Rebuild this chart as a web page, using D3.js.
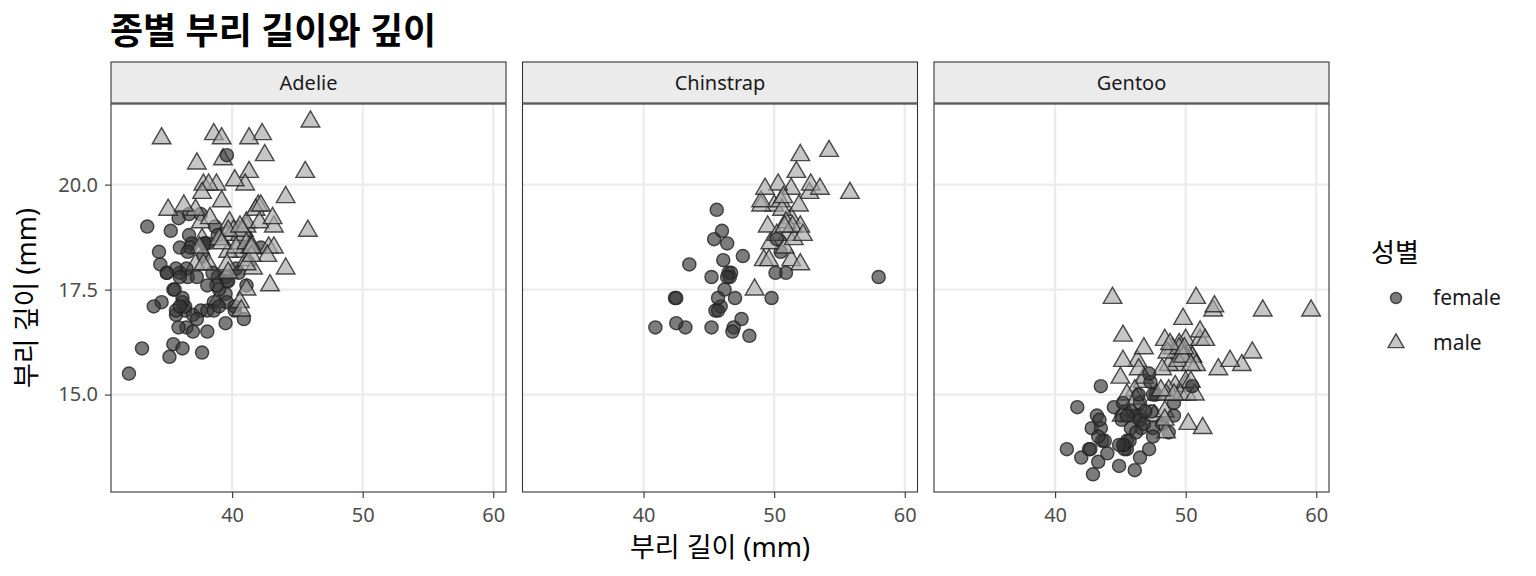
<!DOCTYPE html>
<html>
    <head>
        <meta charset="UTF-8">
        <title>종별 부리 길이와 깊이</title>
        <script type="text/javascript" src="https://cdn.jsdelivr.net/npm/d3@7/dist/d3.min.js"></script>
        <style>
            body { margin: 0; background: #fff; }
            text { font-family: "Noto Sans", "Noto Sans CJK KR", sans-serif; }
        </style>
    </head>
    <body>
        <script type="text/javascript">
            // [bill length, bill depth, sex]
            var adelie = [
                [39.1,18.7,"m"],[39.5,17.4,"f"],[40.3,18.0,"f"],[36.7,19.3,"f"],[39.3,20.6,"m"],[38.9,17.8,"f"],
                [39.2,19.6,"m"],[41.1,17.6,"f"],[38.6,21.2,"m"],[34.6,21.1,"m"],[36.6,17.8,"f"],[38.7,19.0,"f"],
                [42.5,20.7,"m"],[34.4,18.4,"f"],[46.0,21.5,"m"],[37.8,18.3,"f"],[37.7,18.7,"m"],[35.9,19.2,"f"],
                [38.2,18.1,"m"],[38.8,17.2,"m"],[35.3,18.9,"f"],[40.6,18.6,"m"],[40.5,17.9,"f"],[37.9,18.6,"f"],
                [40.5,18.9,"m"],[39.5,16.7,"f"],[37.2,18.1,"m"],[39.5,17.8,"f"],[40.9,18.9,"m"],[36.4,17.0,"f"],
                [39.2,21.1,"m"],[38.8,20.0,"m"],[42.2,18.5,"f"],[37.6,19.3,"f"],[39.8,19.1,"m"],[36.5,18.0,"f"],
                [40.8,18.4,"m"],[36.0,18.5,"f"],[44.1,19.7,"m"],[37.0,16.9,"f"],[39.6,18.8,"m"],[41.1,19.0,"m"],
                [36.0,17.9,"f"],[42.3,21.2,"m"],[39.6,17.7,"f"],[40.1,18.9,"m"],[35.0,17.9,"f"],[42.0,19.5,"m"],
                [34.5,18.1,"f"],[41.4,18.6,"m"],[39.0,17.5,"f"],[40.6,18.8,"m"],[36.5,16.6,"f"],[37.6,19.1,"m"],
                [35.7,16.9,"f"],[41.3,21.1,"m"],[37.6,17.0,"f"],[41.1,18.2,"m"],[36.4,17.1,"f"],[41.6,18.0,"m"],
                [35.5,16.2,"f"],[41.1,19.1,"m"],[35.9,16.6,"f"],[41.8,19.4,"m"],[33.5,19.0,"f"],[39.7,18.4,"m"],
                [39.6,17.2,"f"],[45.8,18.9,"m"],[35.5,17.5,"f"],[42.8,18.5,"m"],[40.9,16.8,"f"],[37.2,19.4,"m"],
                [36.2,16.1,"f"],[42.1,19.1,"m"],[34.6,17.2,"f"],[42.9,17.6,"m"],[36.7,18.8,"f"],[35.1,19.4,"m"],
                [37.3,17.8,"f"],[41.3,20.3,"m"],[36.3,19.5,"m"],[36.9,18.6,"f"],[38.3,19.2,"m"],[38.9,18.8,"f"],
                [35.7,18.0,"f"],[41.1,18.1,"m"],[34.0,17.1,"f"],[39.6,18.1,"m"],[36.2,17.3,"f"],[40.8,18.9,"m"],
                [38.1,18.6,"f"],[40.3,18.5,"m"],[33.1,16.1,"f"],[43.2,18.5,"m"],[35.0,17.9,"f"],[41.0,20.0,"m"],
                [37.7,16.0,"f"],[37.8,20.0,"m"],[37.9,18.6,"f"],[39.7,18.9,"m"],[38.6,17.2,"f"],[38.2,20.0,"m"],
                [38.1,17.0,"f"],[43.2,19.0,"m"],[38.1,16.5,"f"],[45.6,20.3,"m"],[39.7,17.7,"f"],[42.2,19.5,"m"],
                [39.6,20.7,"f"],[42.7,18.3,"m"],[38.6,17.0,"f"],[37.3,20.5,"m"],[35.7,17.0,"f"],[41.1,18.6,"m"],
                [36.2,17.2,"f"],[37.7,19.8,"m"],[40.2,17.0,"f"],[41.4,18.5,"m"],[35.2,15.9,"f"],[40.6,19.0,"m"],
                [38.8,17.6,"f"],[41.5,18.3,"m"],[39.0,17.1,"f"],[44.1,18.0,"m"],[38.5,17.9,"f"],[43.1,19.2,"m"],
                [36.8,18.5,"f"],[37.5,18.5,"m"],[38.1,17.6,"f"],[41.1,17.5,"m"],[35.6,17.5,"f"],[40.2,20.1,"m"],
                [37.0,16.5,"f"],[39.7,17.9,"m"],[40.2,17.1,"f"],[40.6,17.2,"m"],[32.1,15.5,"f"],[40.7,17.0,"m"],
                [37.3,16.8,"f"],[39.0,18.7,"m"],[39.2,18.6,"m"],[36.6,18.4,"f"],[36.0,17.8,"f"],[37.8,18.1,"m"],
                [36.0,17.1,"f"],[41.5,18.5,"m"]
            ];
            var chinstrap = [
                [46.5,17.9,"f"],[50.0,19.5,"m"],[51.3,19.2,"m"],[45.4,18.7,"f"],[52.7,19.8,"m"],[45.2,17.8,"f"],
                [46.1,18.2,"f"],[51.3,18.2,"m"],[46.0,18.9,"f"],[51.3,19.9,"m"],[46.6,17.8,"f"],[51.7,20.3,"m"],
                [47.0,17.3,"f"],[52.0,18.1,"m"],[45.9,17.1,"f"],[50.5,19.6,"m"],[50.3,20.0,"m"],[58.0,17.8,"f"],
                [46.4,18.6,"f"],[49.2,18.2,"m"],[42.4,17.3,"f"],[48.5,17.5,"m"],[43.2,16.6,"f"],[50.6,19.4,"m"],
                [46.7,17.9,"f"],[52.0,19.0,"m"],[50.5,18.4,"f"],[49.5,19.0,"m"],[46.4,17.8,"f"],[52.8,20.0,"m"],
                [40.9,16.6,"f"],[54.2,20.8,"m"],[42.5,16.7,"f"],[51.0,18.8,"m"],[49.7,18.6,"m"],[47.5,16.8,"f"],
                [47.6,18.3,"f"],[52.0,20.7,"m"],[46.9,16.6,"f"],[53.5,19.9,"m"],[49.0,19.5,"m"],[46.2,17.5,"f"],
                [50.9,19.1,"m"],[45.5,17.0,"f"],[50.9,17.9,"f"],[50.8,18.5,"m"],[50.1,17.9,"f"],[49.0,19.6,"m"],
                [51.5,18.7,"m"],[49.8,17.3,"f"],[48.1,16.4,"f"],[51.4,19.0,"m"],[45.7,17.3,"f"],[50.7,19.7,"m"],
                [42.5,17.3,"f"],[52.2,18.8,"m"],[45.2,16.6,"f"],[49.3,19.9,"m"],[50.2,18.8,"m"],[45.6,19.4,"f"],
                [51.9,19.5,"m"],[46.8,16.5,"f"],[45.7,17.0,"f"],[55.8,19.8,"m"],[43.5,18.1,"f"],[49.6,18.2,"m"],
                [50.8,19.0,"m"],[50.2,18.7,"f"]
            ];
            var gentoo = [
                [46.1,13.2,"f"],[50.0,16.3,"m"],[48.7,14.1,"f"],[50.0,15.2,"m"],[47.6,14.5,"m"],[46.5,13.5,"f"],
                [45.4,14.6,"f"],[46.7,15.3,"m"],[43.3,13.4,"f"],[46.8,15.4,"m"],[40.9,13.7,"f"],[49.0,16.1,"m"],
                [45.5,13.7,"f"],[48.4,14.6,"m"],[45.8,14.6,"f"],[49.3,15.7,"m"],[42.0,13.5,"f"],[49.2,15.2,"m"],
                [46.2,14.5,"f"],[48.7,15.1,"m"],[50.2,14.3,"m"],[45.1,14.5,"f"],[46.5,14.5,"f"],[46.3,15.8,"m"],
                [42.9,13.1,"f"],[46.1,15.1,"m"],[47.8,15.0,"m"],[48.2,14.3,"f"],[50.0,15.3,"m"],[47.3,15.3,"f"],
                [42.8,14.2,"f"],[45.1,14.5,"m"],[59.6,17.0,"m"],[49.1,14.8,"f"],[48.4,16.3,"m"],[42.6,13.7,"f"],
                [44.4,17.3,"m"],[44.0,13.6,"f"],[48.7,15.7,"m"],[42.7,13.7,"f"],[49.6,16.0,"m"],[45.3,13.7,"f"],
                [49.6,15.0,"m"],[50.5,15.9,"m"],[43.6,13.9,"f"],[45.5,13.9,"f"],[50.5,15.9,"m"],[44.9,13.3,"f"],
                [45.2,15.8,"m"],[46.6,14.2,"f"],[48.5,14.1,"m"],[45.1,14.4,"f"],[50.1,15.0,"m"],[46.5,14.4,"f"],
                [45.0,15.4,"m"],[43.8,13.9,"f"],[45.5,15.0,"m"],[43.2,14.5,"f"],[50.4,15.3,"m"],[45.3,13.8,"f"],
                [46.2,14.9,"m"],[45.7,13.9,"f"],[54.3,15.7,"m"],[45.8,14.2,"f"],[49.8,16.8,"m"],[49.5,16.2,"m"],
                [43.5,14.2,"f"],[50.7,15.0,"m"],[47.7,15.0,"f"],[46.4,15.6,"m"],[48.2,15.6,"m"],[46.5,14.8,"f"],
                [46.4,15.0,"f"],[48.6,16.0,"m"],[47.5,14.2,"f"],[51.1,16.3,"m"],[45.2,13.8,"f"],[45.2,16.4,"m"],
                [49.1,14.5,"f"],[52.5,15.6,"m"],[47.4,14.6,"f"],[50.0,15.9,"m"],[44.9,13.8,"f"],[50.8,17.3,"m"],
                [43.4,14.4,"f"],[51.3,14.2,"m"],[47.5,14.0,"f"],[52.1,17.0,"m"],[47.5,15.0,"f"],[52.2,17.1,"m"],
                [45.5,14.5,"f"],[49.5,16.1,"m"],[44.5,14.7,"f"],[50.8,15.7,"m"],[49.4,15.8,"m"],[46.9,14.6,"f"],
                [48.4,14.4,"m"],[51.1,16.5,"m"],[48.5,15.0,"m"],[55.9,17.0,"m"],[47.2,15.5,"f"],[49.1,15.0,"m"],
                [46.8,16.1,"m"],[41.7,14.7,"f"],[53.4,15.8,"m"],[43.3,14.0,"f"],[48.1,15.1,"m"],[50.5,15.2,"f"],
                [49.8,15.9,"m"],[43.5,15.2,"f"],[51.5,16.3,"m"],[46.2,14.1,"f"],[55.1,16.0,"m"],[48.8,16.2,"m"],
                [47.2,13.7,"f"],[46.8,14.3,"f"],[50.4,15.7,"m"],[45.2,14.8,"f"],[49.9,16.1,"m"]
            ];

            var species = ["Adelie", "Chinstrap", "Gentoo"];
            var speciesData = [adelie, chinstrap, gentoo];
            var xTicks = [40, 50, 60];
            var yTicks = [15.0, 17.5, 20.0];
            var sexKeys = ["f", "m"];
            var sexLabels = ["female", "male"];

            var w = 1536, h = 576;
            var panelLeft = 111, panelW = 395, panelGap = 16.5;
            var panelTop = 104, panelH = 388, stripH = 41;
            var fontAll = "'Noto Sans', 'Noto Sans CJK KR', sans-serif";

            var svg = d3.select("body").append("svg")
                    .attr("width", w)
                    .attr("height", h);

            var all = d3.merge(speciesData);
            var xExt = d3.extent(all, function(d) { return d[0]; });
            var yExt = d3.extent(all, function(d) { return d[1]; });
            var xPad = (xExt[1] - xExt[0]) * 0.05, yPad = (yExt[1] - yExt[0]) * 0.05;

            var x = d3.scaleLinear().domain([xExt[0] - xPad, xExt[1] + xPad]).range([0, panelW]);
            var y = d3.scaleLinear().domain([yExt[0] - yPad, yExt[1] + yPad]).range([panelH, 0]);

            var fill = d3.scaleOrdinal().domain(sexKeys).range(["#353535", "#a8a8a8"]);
            var shape = d3.scaleOrdinal().domain(sexKeys).range([d3.symbolCircle, d3.symbolTriangle]);
            var size = d3.scaleOrdinal().domain(sexKeys).range([135, 150]);

            // title
            svg.append("text")
                    .attr("x", panelLeft - 1)
                    .attr("y", 44)
                    .style("font-size", "36px")
                    .style("font-weight", "bold")
                    .style("fill", "#000")
                    .text("종별 부리 길이와 깊이");

            species.forEach(function(sp, i) {
                var g = svg.append("g")
                        .attr("transform", "translate(" + (panelLeft + i * (panelW + panelGap)) + "," + panelTop + ")");

                g.append("rect")
                        .attr("width", panelW).attr("height", panelH)
                        .style("fill", "#fff");

                g.selectAll("line.gx").data(xTicks).enter().append("line")
                        .attr("x1", function(d) { return x(d); })
                        .attr("x2", function(d) { return x(d); })
                        .attr("y1", 0).attr("y2", panelH)
                        .style("stroke", "#ebebeb").style("stroke-width", 2.2);
                g.selectAll("line.gy").data(yTicks).enter().append("line")
                        .attr("y1", function(d) { return y(d); })
                        .attr("y2", function(d) { return y(d); })
                        .attr("x1", 0).attr("x2", panelW)
                        .style("stroke", "#ebebeb").style("stroke-width", 2.2);

                g.selectAll("path.pt").data(speciesData[i]).enter().append("path")
                        .attr("transform", function(d) { return "translate(" + x(d[0]) + "," + y(d[1]) + ")"; })
                        .attr("d", function(d) { return d3.symbol().type(shape(d[2])).size(size(d[2]))(); })
                        .style("fill", function(d) { return fill(d[2]); })
                        .style("fill-opacity", 0.65)
                        .style("stroke", "#222")
                        .style("stroke-opacity", 0.8)
                        .style("stroke-width", 1.4);

                g.append("rect")
                        .attr("width", panelW).attr("height", panelH)
                        .style("fill", "none").style("stroke", "#333").style("stroke-width", 1.1);

                // strip
                g.append("rect")
                        .attr("y", -stripH - 1).attr("width", panelW).attr("height", stripH)
                        .style("fill", "#ebebeb").style("stroke", "#333").style("stroke-width", 1.1);
                g.append("text")
                        .attr("x", panelW / 2).attr("y", -stripH / 2 + 6)
                        .attr("text-anchor", "middle")
                        .style("font-size", "20px").style("fill", "#1a1a1a")
                        .text(sp);

                var xa = g.append("g")
                        .attr("transform", "translate(0," + panelH + ")")
                        .call(d3.axisBottom(x).tickValues(xTicks).tickSize(6).tickPadding(10));
                xa.select(".domain").remove();
                xa.selectAll("line").style("stroke", "#333").style("stroke-width", 1.1);
                xa.selectAll("text").style("font-size", "20px").style("fill", "#4d4d4d")
                        .style("font-family", fontAll);

                if (i === 0) {
                    var ya = g.append("g")
                            .call(d3.axisLeft(y).tickValues(yTicks).tickSize(6).tickPadding(7).tickFormat(d3.format(".1f")));
                    ya.select(".domain").remove();
                    ya.selectAll("line").style("stroke", "#333").style("stroke-width", 1.1);
                    ya.selectAll("text").style("font-size", "20px").style("fill", "#4d4d4d")
                            .style("font-family", fontAll);
                }
            });

            // axis titles
            var midX = panelLeft + (3 * panelW + 2 * panelGap) / 2;
            svg.append("text")
                    .attr("x", midX).attr("y", 557)
                    .attr("text-anchor", "middle")
                    .style("font-size", "27px")
                    .text("부리 길이 (mm)");
            svg.append("text")
                    .attr("transform", "translate(36," + (panelTop + panelH / 2) + ") rotate(-90)")
                    .attr("text-anchor", "middle")
                    .style("font-size", "27px")
                    .text("부리 깊이 (mm)");

            // legend
            var lg = svg.append("g").attr("transform", "translate(1371,0)");
            lg.append("text")
                    .attr("x", 0).attr("y", 262)
                    .style("font-size", "26px")
                    .text("성별");
            var items = lg.selectAll("g.item").data(sexKeys).enter().append("g")
                    .attr("transform", function(d, i) { return "translate(25," + (298 + i * 45) + ")"; });
            items.append("path")
                    .attr("d", function(d) { return d3.symbol().type(shape(d)).size(d === "f" ? 95 : 110)(); })
                    .style("fill", function(d) { return fill(d); })
                    .style("fill-opacity", 0.65)
                    .style("stroke", "#222")
                    .style("stroke-opacity", 0.8)
                    .style("stroke-width", 1.4);
            items.append("text")
                    .attr("x", 37).attr("y", 7)
                    .style("font-size", "21px")
                    .style("fill", "#1a1a1a")
                    .text(function(d, i) { return sexLabels[i]; });
        </script>
    </body>
</html>
